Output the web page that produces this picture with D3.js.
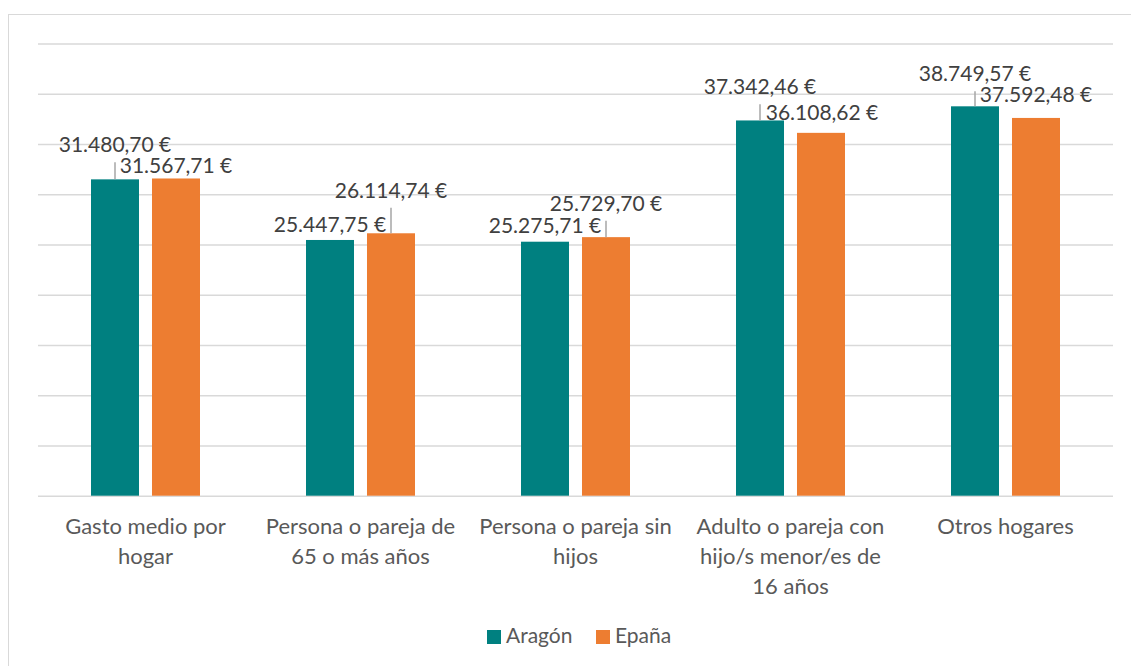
<!DOCTYPE html>
<html>
<head>
<meta charset="utf-8">
<script src="https://cdn.jsdelivr.net/npm/d3@7"></script>
<style>
  body { margin: 0; background: #fff; }
  svg { display: block; }
</style>
</head>
<body>
<div id="box"></div>
<script>
var w = 1131,
    h = 666;

var categories = [
  "Gasto medio por hogar",
  "Persona o pareja de 65 o más años",
  "Persona o pareja sin hijos",
  "Adulto o pareja con hijo/s menor/es de 16 años",
  "Otros hogares"
];
var seriesNames = ["Aragón", "Epaña"];
var aragon = [31480.70, 25447.75, 25275.71, 37342.46, 38749.57];
var espana = [31567.71, 26114.74, 25729.70, 36108.62, 37592.48];
var yTicks = [0, 5000, 10000, 15000, 20000, 25000, 30000, 35000, 40000, 45000];

var colors = ["#008080", "#ED7D31"];

// where Excel left each data label, relative to the top of its bar (dy of the baseline)
var labelDy = [
  [-27, -7.5, -9, -26.3, -25],
  [-5, -35.6, -26.4, -12.6, -16]
];
var labelDx = [
  [0, 0, 0, 0, 0],
  [0, 0, 0, 1, 0]
];
var leader = [
  [true, false, false, true, true],
  [false, true, true, false, false]
];

var margin = {left: 38, right: 18, top: 43.5, bottom: 172};

var svg = d3.select("#box")
            .append("svg")
            .attr("width", w)
            .attr("height", h);

// chart border (only top/left visible in the window)
svg.append("rect")
   .attr("x", 8.5)
   .attr("y", 14.5)
   .attr("width", 1200)
   .attr("height", 800)
   .attr("fill", "none")
   .attr("stroke", "#d9d9d9")
   .attr("stroke-width", 1);

var x0 = d3.scaleBand()
           .domain(categories)
           .range([margin.left, w - margin.right])
           .paddingInner(0)
           .paddingOuter(0);

var x1 = d3.scaleBand()
           .domain(seriesNames)
           .range([0, x0.bandwidth()])
           .paddingInner(0.213)
           .paddingOuter(0.869);

var y = d3.scaleLinear()
          .domain([0, 45000])
          .range([h - margin.bottom + 1.7, margin.top]);

var yAxis = d3.axisLeft(y)
              .tickValues(yTicks)
              .tickSize(-(w - margin.left - margin.right))
              .tickFormat("");

var gy = svg.append("g")
            .attr("transform", "translate(" + margin.left + ",0)")
            .call(yAxis);
gy.select(".domain").remove();
gy.selectAll(".tick line")
  .attr("stroke", "#d9d9d9")
  .attr("stroke-width", 1.5);

var series = [aragon, espana];

function euro(d) {
  return d3.format(",.2f")(d).replace(/,/g, "#").replace(".", ",").replace(/#/g, ".") + " €";
}

series.forEach(function(vals, s) {
  var pts = vals.map(function(v, i) {
    return {
      v: v,
      cx: x0(categories[i]) + x1(seriesNames[s]) + x1.bandwidth() / 2,
      dy: labelDy[s][i],
      dx: labelDx[s][i],
      lead: leader[s][i]
    };
  });
  var g = svg.append("g");
  g.selectAll("rect")
   .data(pts)
   .enter()
   .append("rect")
   .attr("x", function(d) { return d.cx - x1.bandwidth() / 2; })
   .attr("y", function(d) { return y(d.v); })
   .attr("width", x1.bandwidth())
   .attr("height", function(d) { return y(0) - y(d.v); })
   .attr("fill", colors[s]);

  g.selectAll("line.leader")
   .data(pts.filter(function(d) { return d.lead; }))
   .enter()
   .append("line")
   .attr("class", "leader")
   .attr("x1", function(d) { return d.cx; })
   .attr("x2", function(d) { return d.cx; })
   .attr("y1", function(d) { return y(d.v); })
   .attr("y2", function(d) { return y(d.v) + d.dy + 10; })
   .attr("stroke", "#a6a6a6")
   .attr("stroke-width", 1.5);

  g.selectAll("text")
   .data(pts)
   .enter()
   .append("text")
   .text(function(d) { return euro(d.v); })
   .attr("x", function(d) { return d.cx + d.dx; })
   .attr("y", function(d) { return y(d.v) + d.dy; })
   .attr("text-anchor", "middle")
   .attr("font-family", "Lato, sans-serif")
   .attr("font-size", "21px")
   .attr("fill", "#404040");
});

// category labels, wrapped to the band
var xLabels = svg.append("g");
categories.forEach(function(c) {
  var words = c.split(" "),
      lines = [],
      line = [];
  var t = xLabels.append("text")
                 .attr("font-family", "Lato, sans-serif")
                 .attr("font-size", "22px")
                 .attr("fill", "#595959")
                 .attr("text-anchor", "middle");
  var probe = t.append("tspan");
  words.forEach(function(word) {
    line.push(word);
    probe.text(line.join(" "));
    if (probe.node().getComputedTextLength() > 205 && line.length > 1) {
      line.pop();
      lines.push(line.join(" "));
      line = [word];
    }
  });
  lines.push(line.join(" "));
  probe.remove();
  lines.forEach(function(l, k) {
    t.append("tspan")
     .attr("x", x0(c) + x0.bandwidth() / 2)
     .attr("y", y(0) + 38 + k * 30)
     .text(l);
  });
});

// legend
var legend = svg.append("g")
                .attr("transform", "translate(487,630)");
var legX = [0, 109];
seriesNames.forEach(function(n, s) {
  legend.append("rect")
        .attr("x", legX[s])
        .attr("y", 0)
        .attr("width", 14)
        .attr("height", 14)
        .attr("fill", colors[s]);
  legend.append("text")
        .attr("x", legX[s] + 19)
        .attr("y", 13)
        .attr("font-family", "Lato, sans-serif")
        .attr("font-size", "21px")
        .attr("fill", "#595959")
        .text(n);
});
</script>
</body>
</html>
